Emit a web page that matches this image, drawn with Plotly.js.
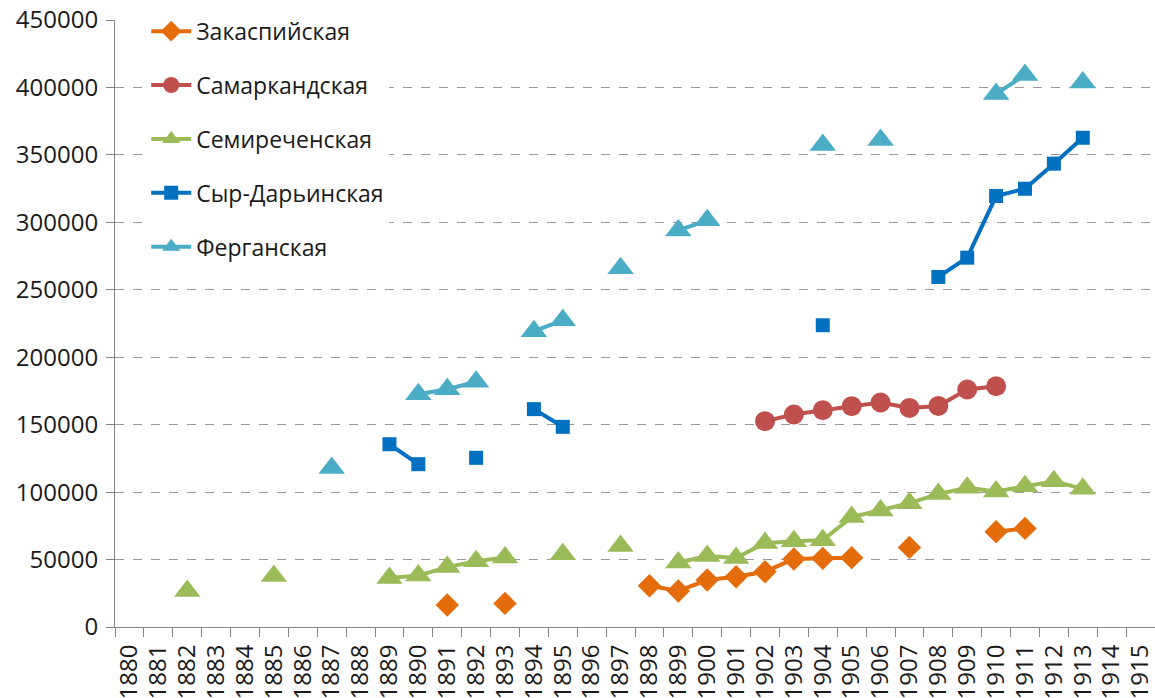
<!DOCTYPE html>
<html>
<head>
<meta charset="utf-8">
<script src="https://cdn.plot.ly/plotly-3.0.1.min.js"></script>
<style>html,body{margin:0;padding:0;background:#fff;}#chart{width:1155px;height:698px;}</style>
</head>
<body>
<div id="chart"></div>
<script>
const years = ['1880','1881','1882','1883','1884','1885','1886','1887','1888','1889',
  '1890','1891','1892','1893','1894','1895','1896','1897','1898','1899',
  '1900','1901','1902','1903','1904','1905','1906','1907','1908','1909',
  '1910','1911','1912','1913','1914','1915'];

const seriesNames = ['Закаспийская','Самаркандская','Семиреченская','Сыр-Дарьинская','Ферганская'];

//                 1880  1881  1882   1883  1884  1885   1886  1887    1888  1889    1890    1891    1892    1893    1894    1895    1896  1897    1898   1899   1900    1901    1902    1903    1904    1905    1906    1907    1908    1909    1910    1911    1912    1913    1914  1915
const zakaspiy   = [null, null, null,  null, null, null,  null, null,   null, null,   null,   16300,  null,   17500,  null,   null,   null, null,   30600, 26700, 34800,  37300,  41000,  50400,  50900,  51400,  null,   59000,  null,   null,   70600,  73100,  null,   null,   null, null];
const samarkand  = [null, null, null,  null, null, null,  null, null,   null, null,   null,   null,   null,   null,   null,   null,   null, null,   null,  null,  null,   null,   152600, 157500, 160700, 163700, 166400, 162400, 163900, 176100, 178500, null,   null,   null,   null, null];
const semirechye = [null, null, 26700, null, null, 37900, null, null,   null, 36400,  38100,  44400,  48700,  51500,  null,   54000,  null, 60000,  null,  47800, 52600,  51100,  62200,  63500,  64400,  81500,  86300,  91800,  98600,  103300, 100500, 104400, 108100, 102400, null, null];
const syrdarya   = [null, null, null,  null, null, null,  null, null,   null, 135500, 120700, null,   125400, null,   161500, 148400, null, null,   null,  null,  null,   null,   null,   null,   223700, null,   null,   null,   259500, 273800, 319500, 324900, 343500, 362700, null, null];
const fergana    = [null, null, null,  null, null, null,  null, 117800, null, null,   172600, 176300, 181800, null,   219300, 227400, null, 265900, null,  294000, 301500, null,  null,   null,   357400, null,   361100, null,   null,   null,   395200, 409200, null,   403700, null, null];

const yTicks = [0, 50000, 100000, 150000, 200000, 250000, 300000, 350000, 400000, 450000];

const colors = ['#E46C0A', '#C0504D', '#9BBB59', '#0070C0', '#4BACC6'];
const symbols = ['diamond', 'circle', 'triangle-up', 'square', 'triangle-up'];
const sizes = [18, 20, 23, 14, 23];
const values = [zakaspiy, samarkand, semirechye, syrdarya, fergana];

const FONT = '"Open Sans", "Noto Sans", sans-serif';

const traces = values.map((v, i) => ({
  type: 'scatter',
  mode: 'lines+markers',
  name: seriesNames[i],
  x: years,
  y: v,
  connectgaps: false,
  legendgroup: 'g' + i,
  line: {color: colors[i], width: 4},
  marker: {color: colors[i], symbol: symbols[i], size: sizes[i], line: {width: 0}},
  hoverinfo: 'x+y+name'
}));

const layout = {
  width: 1155,
  height: 698,
  margin: {l: 115, r: 0, t: 20, b: 71},
  paper_bgcolor: '#ffffff',
  plot_bgcolor: '#ffffff',
  font: {family: FONT, size: 23, color: '#1a1a1a'},
  showlegend: true,
  legend: {
    x: 0.03, y: 1.017, xanchor: 'left', yanchor: 'top',
    bgcolor: '#ffffff',
    traceorder: 'grouped',
    tracegroupgap: 21,
    font: {family: FONT, size: 23, color: '#1a1a1a'},
    itemwidth: 40
  },
  xaxis: {
    type: 'category',
    categoryorder: 'array',
    categoryarray: years,
    range: [-0.5, 35.5],
    tickmode: 'array',
    tickvals: years,
    ticktext: years,
    tickson: 'boundaries',
    ticks: 'outside',
    ticklen: 9,
    tickcolor: '#868686',
    tickwidth: 1,
    tickangle: -90,
    ticklabelstandoff: 7,
    tickfont: {family: FONT, size: 24, color: '#1a1a1a'},
    showline: true,
    linecolor: '#868686',
    linewidth: 1,
    showgrid: false,
    zeroline: false,
    fixedrange: true
  },
  yaxis: {
    range: [0, 450000],
    tickmode: 'array',
    tickvals: yTicks,
    ticktext: yTicks.map(String),
    ticks: 'outside',
    ticklen: 8,
    tickcolor: '#868686',
    tickwidth: 1,
    ticklabelstandoff: 3,
    tickfont: {family: FONT, size: 24, color: '#1a1a1a'},
    showline: true,
    linecolor: '#868686',
    linewidth: 1,
    showgrid: true,
    gridcolor: '#9a9a9a',
    gridwidth: 1,
    griddash: 'dash',
    zeroline: false,
    fixedrange: true
  }
};

Plotly.newPlot('chart', traces, layout, {displayModeBar: false, staticPlot: true});
</script>
</body>
</html>
